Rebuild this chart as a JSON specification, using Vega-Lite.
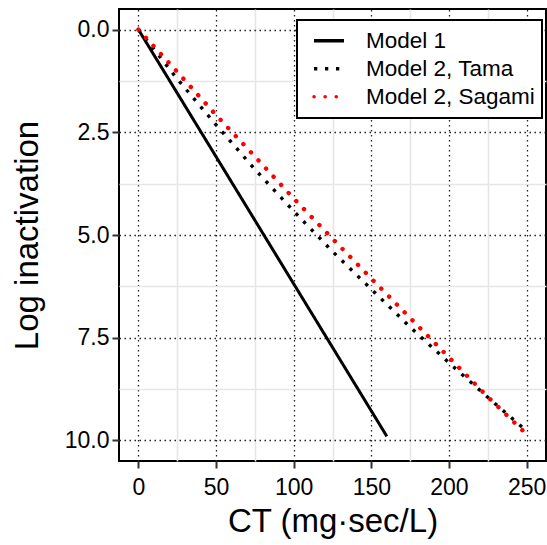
{
  "$schema": "https://vega.github.io/schema/vega-lite/v6.json",
  "width": 427,
  "height": 452,
  "autosize": {"type": "none"},
  "padding": {"left": 119, "top": 9, "right": 1, "bottom": 84},
  "background": "white",
  "config": {
    "font": "Liberation Sans",
    "view": {"stroke": "black", "strokeWidth": 2},
    "axis": {
      "domain": false,
      "labelColor": "black",
      "labelFontSize": 23,
      "labelOverlap": false,
      "labelFlush": false,
      "tickColor": "#333333",
      "tickWidth": 2,
      "tickSize": 7,
      "titleFontSize": 33,
      "titleFontWeight": "normal",
      "titleColor": "black",
      "grid": true
    },
    "legend": {
      "labelLimit": 400
    }
  },
  "data": {
    "values": [
      {"ct": 0, "log": 0, "series": "Model 1"},
      {"ct": 160, "log": 9.9, "series": "Model 1"},
      {"ct": 0, "log": 0, "series": "Model 2, Tama"},
      {"ct": 25, "log": 1.2, "series": "Model 2, Tama"},
      {"ct": 50, "log": 2.32, "series": "Model 2, Tama"},
      {"ct": 75, "log": 3.4, "series": "Model 2, Tama"},
      {"ct": 100, "log": 4.42, "series": "Model 2, Tama"},
      {"ct": 125, "log": 5.4, "series": "Model 2, Tama"},
      {"ct": 150, "log": 6.32, "series": "Model 2, Tama"},
      {"ct": 175, "log": 7.24, "series": "Model 2, Tama"},
      {"ct": 200, "log": 8.11, "series": "Model 2, Tama"},
      {"ct": 225, "log": 8.95, "series": "Model 2, Tama"},
      {"ct": 250, "log": 9.77, "series": "Model 2, Tama"},
      {"ct": 0, "log": 0, "series": "Model 2, Sagami"},
      {"ct": 25, "log": 1.03, "series": "Model 2, Sagami"},
      {"ct": 50, "log": 2.08, "series": "Model 2, Sagami"},
      {"ct": 75, "log": 3.09, "series": "Model 2, Sagami"},
      {"ct": 100, "log": 4.11, "series": "Model 2, Sagami"},
      {"ct": 125, "log": 5.09, "series": "Model 2, Sagami"},
      {"ct": 150, "log": 6.06, "series": "Model 2, Sagami"},
      {"ct": 175, "log": 7.02, "series": "Model 2, Sagami"},
      {"ct": 200, "log": 7.98, "series": "Model 2, Sagami"},
      {"ct": 225, "log": 8.94, "series": "Model 2, Sagami"},
      {"ct": 250, "log": 9.85, "series": "Model 2, Sagami"}
    ]
  },
  "encoding": {
    "color": {
      "field": "series", "type": "nominal",
      "scale": {"domain": ["Model 1", "Model 2, Tama", "Model 2, Sagami"], "range": ["black", "black", "red"]},
      "legend": {
        "title": null,
        "orient": "none",
        "legendX": 178,
        "legendY": 11,
        "padding": 7,
        "strokeColor": "black",
        "fillColor": "white",
        "symbolType": "stroke",
        "symbolSize": 900,
        "symbolStrokeWidth": 3.5,
        "symbolOffset": 8,
        "labelFontSize": 22.5,
        "labelColor": "black",
        "labelOffset": 20,
        "labelLimit": 400,
        "rowPadding": 0,
        "clipHeight": 27.5,
        "encode": {
          "legend": {"update": {"strokeWidth": {"value": 2}}},
          "symbols": {"update": {
            "strokeCap": {"signal": "datum.value === 'Model 2, Sagami' ? 'round' : 'butt'"},
            "strokeDash": {"signal": "datum.value === 'Model 1' ? [1, 0] : (datum.value === 'Model 2, Tama' ? [3.5, 4.3] : [0.1, 7.8])"}
          }}
        }
      }
    },
    "strokeDash": {
      "field": "series", "type": "nominal",
      "scale": {"domain": ["Model 1", "Model 2, Tama", "Model 2, Sagami"], "range": [[1, 0], [3.3, 7.7], [0.1, 11]]},
      "legend": {
        "title": null,
        "orient": "none",
        "legendX": 178,
        "legendY": 11,
        "padding": 7,
        "strokeColor": "black",
        "fillColor": "white",
        "symbolType": "stroke",
        "symbolSize": 900,
        "symbolStrokeWidth": 3.5,
        "symbolOffset": 8,
        "labelFontSize": 22.5,
        "labelColor": "black",
        "labelOffset": 20,
        "labelLimit": 400,
        "rowPadding": 0,
        "clipHeight": 27.5
      }
    }
  },
  "layer": [
    {
      "transform": [{"filter": "datum.series === 'Model 2, Tama'"}],
      "mark": {"type": "line", "strokeWidth": 3.4, "strokeCap": "butt"},
      "encoding": {
        "x": {
          "field": "ct", "type": "quantitative",
          "scale": {"domain": [-12.5, 262.5], "nice": false, "zero": false},
          "axis": {
            "orient": "bottom",
            "grid": true,
            "title": "CT (mg·sec/L)",
            "values": [0, 50, 100, 150, 200, 250],
            "labelPadding": 8,
            "titlePadding": 6,
            "gridColor": "#222222", "gridDash": [1.5, 3.5], "gridWidth": 1.3
          }
        },
        "y": {
          "field": "log", "type": "quantitative",
          "scale": {"domain": [-0.5, 10.5], "nice": false, "zero": false, "reverse": true},
          "axis": {
            "orient": "left",
            "grid": true,
            "title": "Log inactivation",
            "values": [0, 2.5, 5, 7.5, 10],
            "format": ".1f",
            "labelPadding": 3,
            "titlePadding": 20,
            "gridColor": "#222222", "gridDash": [1.5, 3.5], "gridWidth": 1.3
          }
        }
      }
    },
    {
      "transform": [{"filter": "datum.series === 'Model 1'"}],
      "mark": {"type": "line", "strokeWidth": 3, "strokeCap": "butt"},
      "encoding": {
        "x": {
          "field": "ct", "type": "quantitative",
          "scale": {"domain": [-12.5, 262.5], "nice": false, "zero": false},
          "axis": {
            "orient": "bottom", "grid": true, "title": null, "labels": false, "ticks": false,
            "values": [25, 75, 125, 175, 225],
            "gridColor": "#e6e6e6", "gridWidth": 1.6
          }
        },
        "y": {
          "field": "log", "type": "quantitative",
          "scale": {"domain": [-0.5, 10.5], "nice": false, "zero": false, "reverse": true},
          "axis": {
            "orient": "left", "grid": true, "title": null, "labels": false, "ticks": false,
            "values": [1.25, 3.75, 6.25, 8.75],
            "gridColor": "#e6e6e6", "gridWidth": 1.6
          }
        }
      }
    },
    {
      "transform": [{"filter": "datum.series === 'Model 2, Sagami'"}],
      "mark": {"type": "line", "strokeWidth": 4.4, "strokeCap": "round"},
      "encoding": {
        "x": {
          "field": "ct", "type": "quantitative",
          "scale": {"domain": [-12.5, 262.5], "nice": false, "zero": false},
          "axis": null
        },
        "y": {
          "field": "log", "type": "quantitative",
          "scale": {"domain": [-0.5, 10.5], "nice": false, "zero": false, "reverse": true},
          "axis": null
        }
      }
    }
  ],
  "resolve": {"axis": {"x": "independent", "y": "independent"}}
}
